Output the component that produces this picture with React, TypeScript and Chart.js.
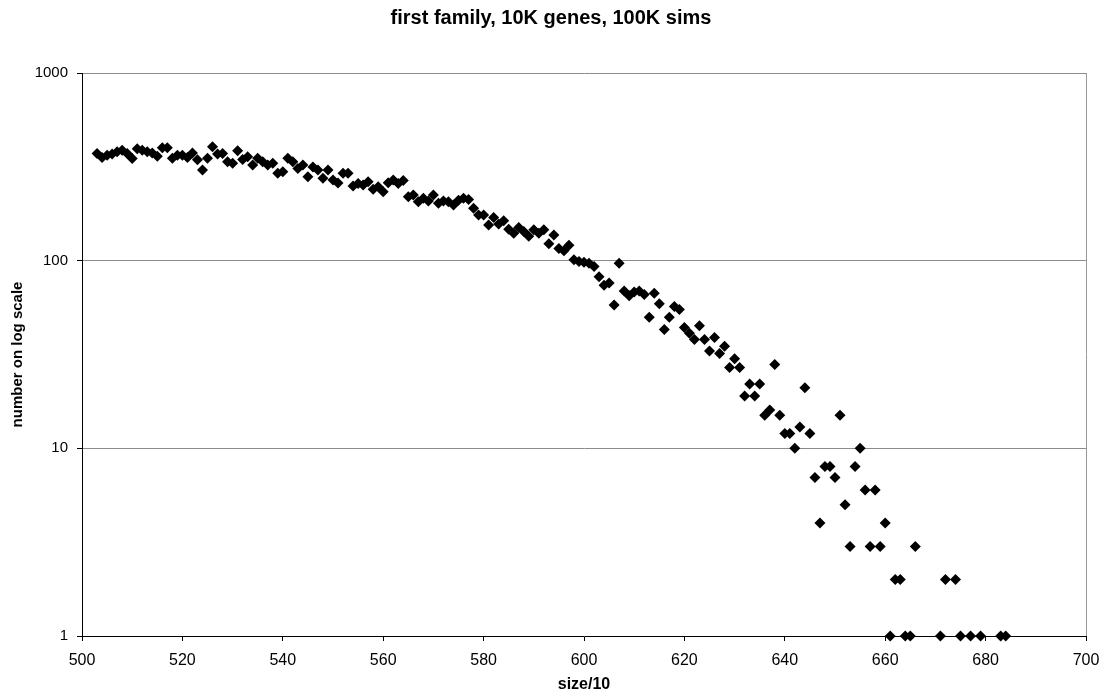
import React, { useEffect, useRef } from "react";
import { Chart, registerables } from "chart.js";

Chart.register(...registerables);

const chartTitle = "first family, 10K genes, 100K sims";
const xAxisTitle = "size/10";
const yAxisTitle = "number on log scale";

const sizes = [
  503, 504, 505, 506, 507, 508, 509, 510, 511, 512,
  513, 514, 515, 516, 517, 518, 519, 520, 521, 522,
  523, 524, 525, 526, 527, 528, 529, 530, 531, 532,
  533, 534, 535, 536, 537, 538, 539, 540, 541, 542,
  543, 544, 545, 546, 547, 548, 549, 550, 551, 552,
  553, 554, 555, 556, 557, 558, 559, 560, 561, 562,
  563, 564, 565, 566, 567, 568, 569, 570, 571, 572,
  573, 574, 575, 576, 577, 578, 579, 580, 581, 582,
  583, 584, 585, 586, 587, 588, 589, 590, 591, 592,
  593, 594, 595, 596, 597, 598, 599, 600, 601, 602,
  603, 604, 605, 606, 607, 608, 609, 610, 611, 612,
  613, 614, 615, 616, 617, 618, 619, 620, 621, 622,
  623, 624, 625, 626, 627, 628, 629, 630, 631, 632,
  633, 634, 635, 636, 637, 638, 639, 640, 641, 642,
  643, 644, 645, 646, 647, 648, 649, 650, 651, 652,
  653, 654, 655, 656, 657, 658, 659, 660, 661, 662,
  663, 664, 665, 666, 671, 672, 674, 675, 677, 679, 683, 684,
];

const counts = [
  373, 355, 365, 370, 380, 388, 373, 350, 395, 388,
  380, 375, 360, 400, 400, 351, 365, 365, 355, 375,
  345, 304, 351, 405, 370, 373, 337, 330, 385, 346,
  358, 323, 351, 337, 323, 330, 292, 298, 351, 337,
  310, 323, 280, 316, 304, 275, 304, 269, 259, 292,
  292, 250, 258, 253, 263, 240, 248, 233, 260, 269,
  258, 267, 219, 224, 206, 215, 208, 224, 202, 208,
  206, 198, 210, 215, 212, 190, 175, 175, 155, 170,
  157, 163, 147, 140, 150, 143, 135, 146, 140, 146,
  123, 137, 116, 113, 121, 101, 99, 98, 97, 93,
  82, 74, 76, 58, 97, 69, 65, 68, 69, 66,
  50, 67, 59, 43, 50, 57, 55, 44, 41, 38,
  45, 38, 33, 39, 32, 35, 27, 30, 27, 19,
  22, 19, 22, 15, 16, 28, 15, 12, 12, 10,
  13, 21, 12, 7, 4, 8, 8, 7, 15, 5,
  3, 8, 10, 6, 3, 6, 3, 4, 1, 2,
  2, 1, 1, 3, 1, 2, 2, 1, 1, 1, 1, 1,
];

const xTickValues = [500, 520, 540, 560, 580, 600, 620, 640, 660, 680, 700];
const yTickValues = [1, 10, 100, 1000];

const FONT = "'Liberation Sans', Arial, Helvetica, sans-serif";

export default function App() {
  const canvasRef = useRef<HTMLCanvasElement | null>(null);

  useEffect(() => {
    const canvas = canvasRef.current;
    if (!canvas) return;
    const points = sizes.map((s, i) => ({ x: s, y: counts[i] }));
    const chart = new Chart(canvas, {
      type: "scatter",
      data: {
        datasets: [
          {
            data: points,
            pointStyle: "rectRot",
            pointRadius: 5.5,
            pointHoverRadius: 5.5,
            backgroundColor: "#000000",
            borderColor: "#000000",
            borderWidth: 0,
            clip: false as any,
          },
        ],
      },
      options: {
        animation: false,
        responsive: false,
        devicePixelRatio: 1,
        layout: { padding: { left: 16, right: 25, top: 0, bottom: 0 } },
        plugins: {
          legend: { display: false },
          tooltip: { enabled: false },
          title: {
            display: true,
            text: chartTitle,
            color: "#000000",
            font: { family: FONT, size: 20, weight: "bold" },
            padding: { top: 6, bottom: 43 },
          },
        },
        scales: {
          x: {
            type: "linear",
            min: 500,
            max: 700,
            afterBuildTicks: (scale: any) => {
              scale.ticks = xTickValues.map((v) => ({ value: v }));
            },
            afterFit: (scale: any) => {
              scale.height = 58;
            },
            ticks: {
              color: "#000000",
              font: { family: FONT, size: 16 },
              padding: 10,
              maxRotation: 0,
              autoSkip: false,
            },
            grid: {
              color: (ctx: any) =>
                ctx.tick && ctx.tick.value === 700 ? "#999999" : "rgba(0,0,0,0)",
              tickColor: "#000000",
              tickLength: 5,
              lineWidth: 1,
            },
            border: { display: true, color: "#000000", width: 1 },
            title: {
              display: true,
              text: xAxisTitle,
              color: "#000000",
              font: { family: FONT, size: 16, weight: "bold" },
              padding: { top: 0, bottom: 0 },
            },
          },
          y: {
            type: "logarithmic",
            min: 1,
            max: 1000,
            afterBuildTicks: (scale: any) => {
              scale.ticks = yTickValues.map((v) => ({ value: v }));
            },
            afterFit: (scale: any) => {
              scale.width = 66;
            },
            ticks: {
              color: "#000000",
              font: { family: FONT, size: 15 },
              padding: 9,
              autoSkip: false,
              callback: (value: any) => String(value),
            },
            grid: {
              color: (ctx: any) =>
                ctx.tick && ctx.tick.value === 1 ? "rgba(0,0,0,0)" : "#8c8c8c",
              tickColor: "#000000",
              tickLength: 5,
              lineWidth: 1,
            },
            border: { display: true, color: "#000000", width: 1 },
            title: {
              display: true,
              text: yAxisTitle,
              color: "#000000",
              font: { family: FONT, size: 15, weight: "bold" },
              padding: { top: -7, bottom: 0 },
            },
          },
        },
      },
    });
    return () => chart.destroy();
  }, []);

  return (
    <div style={{ position: "fixed", left: 0, top: 0, width: 1111, height: 694, background: "#ffffff" }}>
      <canvas ref={canvasRef} width={1111} height={694} style={{ display: "block", width: 1111, height: 694 }} />
    </div>
  );
}
